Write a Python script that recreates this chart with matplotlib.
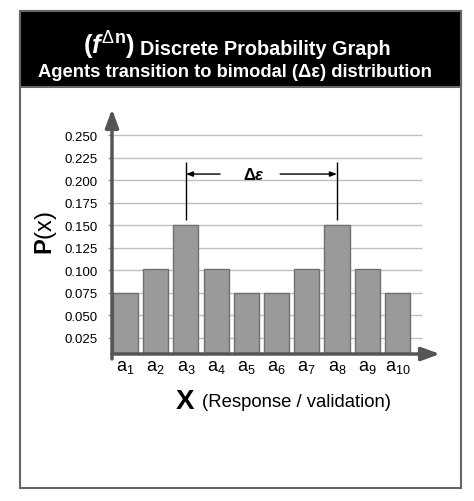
import numpy as np
import matplotlib
matplotlib.use('Agg')
import matplotlib.pyplot as plt
from matplotlib.patches import Rectangle

plt.rcParams['font.family'] = ['Liberation Sans', 'DejaVu Sans']
plt.rcParams['mathtext.fontset'] = 'custom'
plt.rcParams['mathtext.rm'] = 'Liberation Sans'
plt.rcParams['mathtext.it'] = 'Liberation Sans:bold:italic'
plt.rcParams['mathtext.bf'] = 'Liberation Sans:bold'

# data
categories = ['a1', 'a2', 'a3', 'a4', 'a5', 'a6', 'a7', 'a8', 'a9', 'a10']
probs = [0.075, 0.101, 0.150, 0.101, 0.075, 0.075, 0.101, 0.150, 0.101, 0.075]
y_ticks = [0.025, 0.050, 0.075, 0.100, 0.125, 0.150, 0.175, 0.200, 0.225, 0.250]
x_labels = [r'$\mathregular{a_{%s}}$' % c[1:] for c in categories]
peaks = [2, 7]

W, H = 474, 502


def fx(x):
    return x / W


def fy(y):
    return 1 - y / H


fig = plt.figure(figsize=(W / 100, H / 100), dpi=100)

# outer frame and black header
fig.patches.append(Rectangle((fx(20), fy(489)), fx(441), (489 - 12) / H,
                             transform=fig.transFigure, facecolor='none',
                             edgecolor='#666666', lw=1.5, zorder=-2))
fig.patches.append(Rectangle((fx(20), fy(88)), fx(441), (88 - 12) / H,
                             transform=fig.transFigure, facecolor='black',
                             edgecolor='#666666', lw=1.5, zorder=-1))

fig.text(fx(135), fy(55), r'($f^{\Delta\mathregular{n}}$)', color='white',
         fontsize=18.5, fontweight='bold', ha='right', va='baseline')
fig.text(fx(140), fy(55), 'Discrete Probability Graph', color='white',
         fontsize=14.3, fontweight='bold', ha='left', va='baseline')
fig.text(fx(235), fy(77), 'Agents transition to bimodal (Δε) distribution',
         color='white', fontsize=13.2, fontweight='bold', ha='center', va='baseline')

ax = fig.add_axes([fx(112), fy(355), (440 - 112) / W, (355 - 110) / H])
ax.patch.set_alpha(0)
x = np.arange(len(categories))
ax.bar(x, probs, width=0.83, color='#9a9a9a', edgecolor='#707070', lw=1, zorder=2)

ax.set_xlim(-0.447, 10.41)
ax.set_ylim(0.0067, 0.279)
ax.hlines(y_ticks, -0.447, 9.82, color='#c0c0c0', lw=1, zorder=1)

for s in ax.spines.values():
    s.set_visible(False)

ax.set_yticks(y_ticks)
ax.set_yticklabels(['%.3f' % v for v in y_ticks])
ax.tick_params(axis='y', length=3, width=1, color='#999999', pad=7, labelsize=9.5)
ax.set_xticks(x)
ax.set_xticklabels(x_labels)
ax.tick_params(axis='x', length=0, pad=3, labelsize=13)

# axis arrows
arrow = dict(arrowstyle='-|>,head_length=0.55,head_width=0.2', mutation_scale=20,
             color='#555555', lw=2.5, shrinkA=0, shrinkB=0)
ax.annotate('', xy=(0, 1), xytext=(0, -0.02), xycoords='axes fraction',
            arrowprops=arrow, annotation_clip=False)
ax.annotate('', xy=(1, 0), xytext=(0, 0), xycoords='axes fraction',
            arrowprops=arrow, annotation_clip=False)

# delta epsilon marker
ax.vlines(peaks, 0.1556, 0.22, color='black', lw=1, zorder=3)
small = dict(arrowstyle='-|>,head_length=0.4,head_width=0.15', mutation_scale=10,
             color='black', lw=1, shrinkA=0, shrinkB=0)
ax.annotate('', xy=(peaks[0], 0.2067), xytext=(3.13, 0.2067), arrowprops=small)
ax.annotate('', xy=(peaks[1], 0.2067), xytext=(5.12, 0.2067), arrowprops=small)
ax.text(4.25, 0.2067, r'$\mathbf{\Delta}\varepsilon$', ha='center', va='center', fontsize=12)

# axis titles
fig.text(fx(46), fy(233), r'$\mathbf{P}$(x)', rotation=90, fontsize=17,
         ha='center', va='center')
fig.text(fx(185), fy(402), 'X', fontsize=20, fontweight='bold',
         ha='center', va='center')
fig.text(fx(202), fy(403), '(Response / validation)', fontsize=13.3,
         ha='left', va='center')

fig.savefig('out.png', dpi=100)
